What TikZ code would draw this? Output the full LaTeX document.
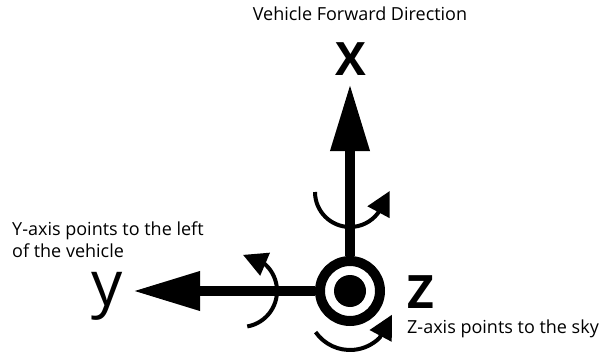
\documentclass[tikz,border=0pt]{standalone}
\usepackage{fontspec}
\setmainfont{Open Sans}
\setsansfont{Open Sans}
\usetikzlibrary{arrows.meta}
\definecolor{ink}{HTML}{000000}

\tikzset{
  axis/.style={draw=ink,line width=10pt,-{Triangle[length=67pt,width=37pt]}},
  spin/.style={draw=ink,line width=4pt,-{Triangle[length=24pt,width=24pt]}},
  caption/.style={font=\fontsize{18}{22}\selectfont,inner sep=0pt},
  biglabel/.style={font=\bfseries\fontsize{46}{46}\selectfont,inner sep=0pt},
}

\begin{document}
\begin{tikzpicture}[x=1pt,y=1pt,text=ink,>=Latex]
  \useasboundingbox (0,0) rectangle (602,354);

  % origin, z comes out of the page
  \node[draw=ink,circle,line width=10pt,minimum size=60pt,inner sep=0pt] (o) at (350,63) {};
  \node[fill=ink,circle,minimum size=32pt,inner sep=0pt] (odot) at (o) {};

  \coordinate (xtip) at (350,270);
  \coordinate (ytip) at (133,63);
  \draw[axis] (o) -- (xtip);
  \draw[axis] (o) -- (ytip);

  % rotation arrows
  \coordinate (xspin) at (350,162);
  \coordinate (yspin) at (241,63);
  \coordinate (zspin) at (350,46);
  \draw[spin] ([shift={(180:35)}]xspin) arc[start angle=180,end angle=323,radius=35] -- ++(62:25);
  \draw[spin] ([shift={(-80:36)}]yspin) arc[start angle=-80,end angle=48,radius=36] -- ++(157:24);
  \draw[spin] ([shift={(215:42)}]zspin) arc[start angle=215,end angle=315,radius=42] -- ++(62:26);

  \node[caption,anchor=base] (title) at (360,333) {Vehicle Forward Direction};
  \node[biglabel] (xlab) at (351,295) {X};
  \node[font=\fontsize{62}{62}\selectfont,inner sep=0pt,anchor=base] (ylab) at (107,49) {y};
  \node[biglabel] (zlab) at (421,62) {Z};
  \node[caption,anchor=base west] (zcap) at (407,21) {Z-axis points to the sky};
  \node[caption,anchor=base west,align=left] (ycap) at (12,97)
    {Y-axis points to the left\\of the vehicle};
\end{tikzpicture}
\end{document}
